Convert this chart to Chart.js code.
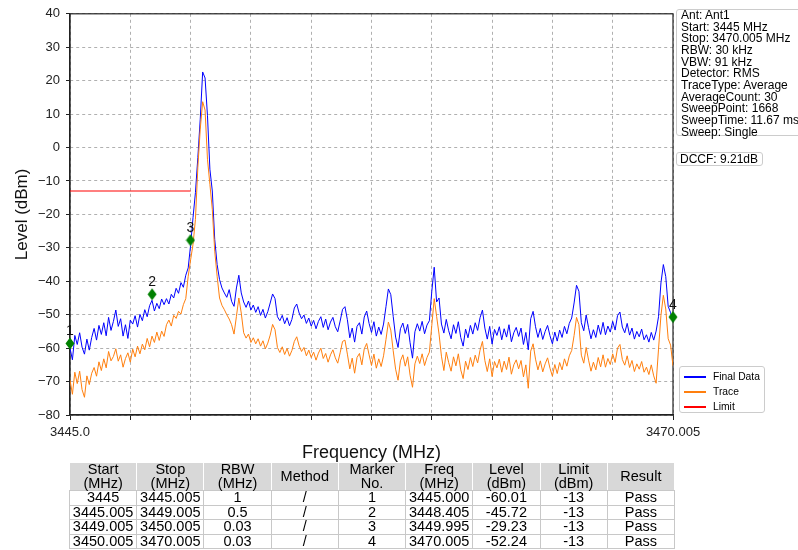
<!DOCTYPE html>
<html lang="en">
<head>
  <meta charset="UTF-8">
  <title>Spectrum</title>
  <script src="https://cdn.jsdelivr.net/npm/chart.js"></script>
  <style>
    body { margin: 0; width: 798px; height: 550px; overflow: hidden; background: #fff; font-family: "Liberation Sans", Arial, sans-serif; position: relative; }
    #wrap { position: absolute; left: 0; top: 0; width: 798px; height: 550px; }
    .box { position: absolute; border: 1px solid #cccccc; border-radius: 3px; background: #fff; font-size: 12px; color: #000; }
    #info { left: 676px; top: 9px; width: 140px; height: 127px; line-height: 11.67px; padding-left: 4px; box-sizing: border-box; white-space: nowrap; }
    #dccf { left: 676px; top: 152px; width: 87px; height: 14px; line-height: 13px; padding-left: 3px; box-sizing: border-box; }
    #legend { left: 679px; top: 366px; width: 86px; height: 47px; font-size: 10.3px; box-sizing: border-box; padding-top: 2px; }
    #legend div { height: 15px; line-height: 15px; position: relative; padding-left: 33px; }
    #legend span { position: absolute; left: 4px; top: 7px; width: 22px; height: 1.5px; }
    table { position: absolute; left: 69px; top: 462px; width: 606px; border-collapse: collapse; table-layout: fixed;
      font-family: "Liberation Sans Narrow", "Arial Narrow", sans-serif; font-size: 14.5px; color: #000; }
    td, th { border: 1px solid #c8c8c8; text-align: center; padding: 0; font-weight: normal; line-height: 13.5px; height: 13.5px; }
    th { background: #d8d8d8; height: 27px; border-color: #ffffff #ffffff #c8c8c8 #ffffff; }
  </style>
</head>
<body>
  <div id="wrap"><canvas id="spectrum" width="798" height="550"></canvas></div>

  <div class="box" id="info"></div>
  <div class="box" id="dccf">DCCF: 9.21dB</div>
  <div class="box" id="legend"></div>
  <table id="result"></table>

  <script>
    // sweep settings
    const sweepStart = 3445.0;
    const sweepStop = 3470.005;

    // Final Data (blue), one value every ~0.1 MHz
    const finalData = [
      -60.0, -63.5, -56.2, -58.9, -55.4, -59.7, -61.8, -57.3, -60.6, -56.8,
      -54.1, -57.6, -53.2, -55.9, -52.4, -56.3, -50.8, -54.7, -52.0, -48.6,
      -53.5, -51.2, -56.4, -53.0, -57.1, -51.6, -52.8, -50.3, -53.7, -49.9,
      -51.8, -48.5, -50.6, -47.3, -45.7, -48.9, -46.6, -48.2, -45.3, -47.0,
      -45.2, -46.8, -43.9, -45.0, -42.1, -43.6, -40.4, -41.8, -38.2, -36.0,
      -29.2, -21.0, -13.5, -3.0, 8.5, 22.6, 20.8, 9.5, -6.5, -13.0,
      -27.5, -35.0, -39.5, -42.0, -43.5, -44.8, -42.5, -46.0, -47.5, -42.0,
      -38.2, -43.5, -46.2, -47.8, -45.9, -48.6, -47.1, -49.3, -47.6, -50.2,
      -48.4, -51.0, -49.1, -46.5, -43.8, -45.2, -50.6, -51.8, -50.2, -52.7,
      -50.9, -53.3, -51.4, -48.0, -46.8, -49.5, -51.2, -50.1, -52.6, -51.0,
      -53.4, -51.7, -54.2, -52.0, -50.6, -53.8, -51.3, -54.5, -52.2, -50.8,
      -53.6, -55.1, -51.9, -48.4, -47.6, -51.5, -56.9, -54.0, -58.2, -53.5,
      -52.4, -55.8, -50.7, -48.9, -52.6, -55.3, -52.1, -56.4, -53.7, -55.9,
      -52.8, -47.6, -42.3, -44.0, -50.5, -56.7, -59.8, -54.2, -52.5, -55.6,
      -52.9, -58.4, -63.0, -55.1, -52.7, -54.9, -52.0, -55.7, -53.1, -51.8,
      -43.0, -35.8, -46.2, -45.0, -52.8, -55.5, -51.4, -54.8, -57.2, -53.0,
      -55.6, -52.1, -56.8, -59.4, -54.3, -56.9, -53.2, -55.8, -52.4, -54.7,
      -50.9, -48.6, -54.0, -57.3, -53.5, -58.8, -54.4, -56.2, -53.6, -57.5,
      -54.2, -56.7, -53.0, -58.1, -55.4, -53.8, -56.5, -54.0, -58.9, -55.3,
      -60.5, -51.2, -49.0, -53.6, -56.8, -54.1, -57.4, -55.0, -53.2, -56.3,
      -58.7, -55.2, -57.9, -54.6, -56.8, -53.5, -55.7, -52.6, -51.0, -46.5,
      -41.2, -43.0, -52.4, -54.8, -50.1, -53.9, -57.2, -54.5, -56.8, -53.1,
      -55.9, -52.3, -56.0, -53.4, -55.2, -52.0, -54.6, -50.3, -49.2, -53.7,
      -55.4, -52.6, -56.1, -54.0, -57.3, -55.0, -56.6, -54.3, -57.5, -56.0,
      -58.2, -55.3, -57.6, -54.9, -50.6, -40.5, -35.0, -38.6, -47.5, -49.4, -52.2
    ];

    // Trace (orange)
    const traceData = [
      -69.5, -73.8, -67.2, -70.6, -66.9, -72.4, -74.7, -68.3, -70.9, -67.5,
      -65.8, -68.4, -64.1, -66.7, -63.2, -65.9, -61.0, -63.8, -62.5, -60.2,
      -63.9, -62.0, -65.7, -63.1, -61.4, -64.2, -60.3, -62.6, -59.4, -61.7,
      -58.8, -60.5, -57.1, -59.6, -56.4, -58.3, -55.2, -57.7, -54.9, -56.5,
      -53.0, -51.6, -53.4, -50.2, -51.1, -49.0, -49.8, -47.0, -45.2, -38.5,
      -33.6, -29.0, -21.5, -6.0, 5.5, 13.7, 11.2, -3.5, -11.0, -18.5,
      -31.0, -38.5, -45.0, -47.2, -48.5, -50.0, -51.3, -53.0, -55.8, -50.5,
      -45.0, -49.5, -55.4, -57.0, -55.8, -58.3, -56.9, -58.7, -57.2, -59.4,
      -57.8, -60.2, -58.5, -56.1, -52.9, -54.5, -59.8, -61.3, -59.6, -61.9,
      -60.1, -62.4, -60.7, -58.0, -56.6, -59.3, -61.0, -59.8, -62.3, -60.6,
      -62.8, -61.2, -63.6, -61.5, -60.0, -63.1, -61.6, -64.2, -62.0, -60.5,
      -62.9, -64.5, -61.4, -58.0, -57.6, -61.8, -66.2, -63.0, -67.5, -62.8,
      -61.6, -65.0, -60.2, -58.6, -62.0, -65.2, -61.8, -66.0, -63.2, -65.5,
      -62.3, -57.4, -52.2, -54.6, -60.8, -66.3, -69.6, -63.8, -62.0, -65.4,
      -62.6, -68.1, -71.7, -64.7, -62.4, -64.6, -61.7, -65.2, -62.8, -61.2,
      -53.2, -45.2, -50.5, -55.8, -62.4, -66.7, -61.2, -64.3, -66.9, -62.6,
      -65.3, -61.7, -66.5, -69.1, -63.9, -66.4, -62.8, -65.5, -62.1, -64.4,
      -60.6, -58.0, -63.7, -67.0, -63.2, -68.5, -64.0, -65.9, -63.3, -67.2,
      -63.9, -66.4, -62.7, -67.8, -65.0, -63.5, -66.2, -63.7, -68.6, -65.0,
      -72.0, -60.9, -58.7, -63.3, -66.5, -63.8, -67.1, -64.7, -62.9, -66.0,
      -68.4, -64.9, -67.6, -64.3, -66.5, -63.2, -65.4, -62.3, -60.7, -56.2,
      -50.8, -53.0, -62.1, -64.5, -59.8, -63.6, -66.9, -64.2, -66.5, -62.8,
      -65.6, -62.0, -65.7, -63.1, -64.9, -61.7, -64.3, -60.0, -58.9, -63.4,
      -65.1, -62.3, -65.8, -63.7, -67.0, -64.7, -66.3, -64.0, -67.2, -65.7,
      -67.9, -65.0, -68.3, -70.5, -60.3, -50.2, -44.2, -48.3, -57.2, -59.1, -65.3
    ];

    const limitFreqs = [3445.0, 3450.005];
    const limitLevels = [-13, -13];

    const markerFreqs = [3445.0, 3448.405, 3449.995, 3470.005];
    const markerLevels = [-58.6, -43.9, -27.7, -50.7];
    const markerNames = ['1', '2', '3', '4'];

    const yTicks = [40, 30, 20, 10, 0, -10, -20, -30, -40, -50, -60, -70, -80];
    const xTickLabels = ['3445.0', '', '', '', '', '', '', '', '', '', '3470.005'];

    const infoLines = ['Ant: Ant1', 'Start: 3445 MHz', 'Stop: 3470.005 MHz', 'RBW: 30 kHz', 'VBW: 91 kHz',
      'Detector: RMS', 'TraceType: Average', 'AverageCount: 30', 'SweepPoint: 1668', 'SweepTime: 11.67 ms', 'Sweep: Single'];

    const tableHead = ['Start<br>(MHz)', 'Stop<br>(MHz)', 'RBW<br>(MHz)', 'Method', 'Marker<br>No.', 'Freq<br>(MHz)', 'Level<br>(dBm)', 'Limit<br>(dBm)', 'Result'];
    const tableRows = [
      ['3445', '3445.005', '1', '/', '1', '3445.000', '-60.01', '-13', 'Pass'],
      ['3445.005', '3449.005', '0.5', '/', '2', '3448.405', '-45.72', '-13', 'Pass'],
      ['3449.005', '3450.005', '0.03', '/', '3', '3449.995', '-29.23', '-13', 'Pass'],
      ['3450.005', '3470.005', '0.03', '/', '4', '3470.005', '-52.24', '-13', 'Pass']
    ];

    const legendItems = [['Final Data', '#0000ff'], ['Trace', '#ff7f0e'], ['Limit', '#ff0000']];

    // side boxes + table
    document.getElementById('info').innerHTML = infoLines.join('<br>');
    document.getElementById('legend').innerHTML = legendItems.map(l =>
      '<div><span style="background:' + l[1] + '"></span>' + l[0] + '</div>').join('');
    let html = '<tr>' + tableHead.map(h => '<th>' + h + '</th>').join('') + '</tr>';
    tableRows.forEach(r => { html += '<tr>' + r.map(c => '<td>' + c + '</td>').join('') + '</tr>'; });
    document.getElementById('result').innerHTML = html;

    // x positions of the sweep points
    const step = (sweepStop - sweepStart) / (finalData.length - 1);
    const toXY = arr => arr.map((v, i) => ({ x: sweepStart + i * step, y: v }));
    const xGrid = xTickLabels.map((_, k) => sweepStart + k * (sweepStop - sweepStart) / (xTickLabels.length - 1));

    // thin diamond marker
    const diamond = document.createElement('canvas');
    diamond.width = 10; diamond.height = 13;
    let dc = diamond.getContext('2d');
    dc.fillStyle = '#008000';
    dc.beginPath(); dc.moveTo(5, 0.5); dc.lineTo(9.5, 6.5); dc.lineTo(5, 12.5); dc.lineTo(0.5, 6.5); dc.closePath(); dc.fill();

    const fontFam = '"Liberation Sans", Arial, sans-serif';

    const framePlugin = {
      id: 'frame',
      beforeDatasetsDraw(chart) {
        const a = chart.chartArea, ctx = chart.ctx;
        ctx.save();
        ctx.strokeStyle = '#222';
        ctx.lineWidth = 1.2;
        ctx.strokeRect(a.left, a.top, a.right - a.left, a.bottom - a.top);
        ctx.restore();
      },
      afterDatasetsDraw(chart) {
        const ctx = chart.ctx, xs = chart.scales.x, ys = chart.scales.y;
        ctx.save();
        ctx.fillStyle = '#111';
        ctx.font = '14px ' + fontFam;
        ctx.textAlign = 'center';
        ctx.textBaseline = 'middle';
        markerNames.forEach((n, i) => {
          ctx.fillText(n, xs.getPixelForValue(markerFreqs[i]), ys.getPixelForValue(markerLevels[i]) - 12);
        });
        ctx.restore();
      }
    };

    new Chart(document.getElementById('spectrum'), {
      type: 'line',
      data: {
        datasets: [
          { label: 'Final Data', data: toXY(finalData), borderColor: '#0000ff', borderWidth: 1, order: 3 },
          { label: 'Trace', data: toXY(traceData), borderColor: '#ff7f0e', borderWidth: 1, order: 2 },
          { label: 'Limit', data: limitFreqs.map((f, i) => ({ x: f, y: limitLevels[i] })), borderColor: '#ff0000', borderWidth: 1.2, order: 1 },
          { label: 'Markers', data: markerFreqs.map((f, i) => ({ x: f, y: markerLevels[i] })), showLine: false,
            pointStyle: diamond, pointRadius: 6, clip: false, order: 0 }
        ]
      },
      options: {
        responsive: false,
        animation: false,
        layout: { padding: { top: 9, right: 125, bottom: 83, left: 0 } },
        elements: { point: { radius: 0 }, line: { tension: 0 } },
        plugins: { legend: { display: false }, tooltip: { enabled: false } },
        scales: {
          x: {
            type: 'linear', min: sweepStart, max: sweepStop,
            afterBuildTicks: s => { s.ticks = xGrid.map(v => ({ value: v })); },
            afterFit: s => { s.height = 52; },
            grid: { color: '#b0b0b0', tickColor: '#222', tickLength: 5 },
            border: { dash: [3, 3], color: '#222', width: 1.2 },
            ticks: {
              autoSkip: false, maxRotation: 0, padding: 5, color: '#222',
              font: { size: 13, family: fontFam },
              callback: (v, i) => xTickLabels[i]
            },
            title: { display: true, text: 'Frequency (MHz)', color: '#111', font: { size: 18, family: fontFam }, padding: { top: 0, bottom: 3 } }
          },
          y: {
            min: -80, max: 40,
            afterBuildTicks: s => { s.ticks = yTicks.map(v => ({ value: v })); },
            afterFit: s => { s.width = 70; },
            grid: { color: '#b0b0b0', tickColor: '#222', tickLength: 4 },
            border: { dash: [3, 3], color: '#222', width: 1.2 },
            ticks: {
              padding: 6, color: '#222',
              font: { size: 13, family: fontFam },
              callback: v => String(v).replace('-', '\u2212')
            },
            title: { display: true, text: 'Level (dBm)', color: '#111', font: { size: 17, family: fontFam }, padding: { top: 12, bottom: 0 } }
          }
        }
      },
      plugins: [framePlugin]
    });
  </script>
</body>
</html>
